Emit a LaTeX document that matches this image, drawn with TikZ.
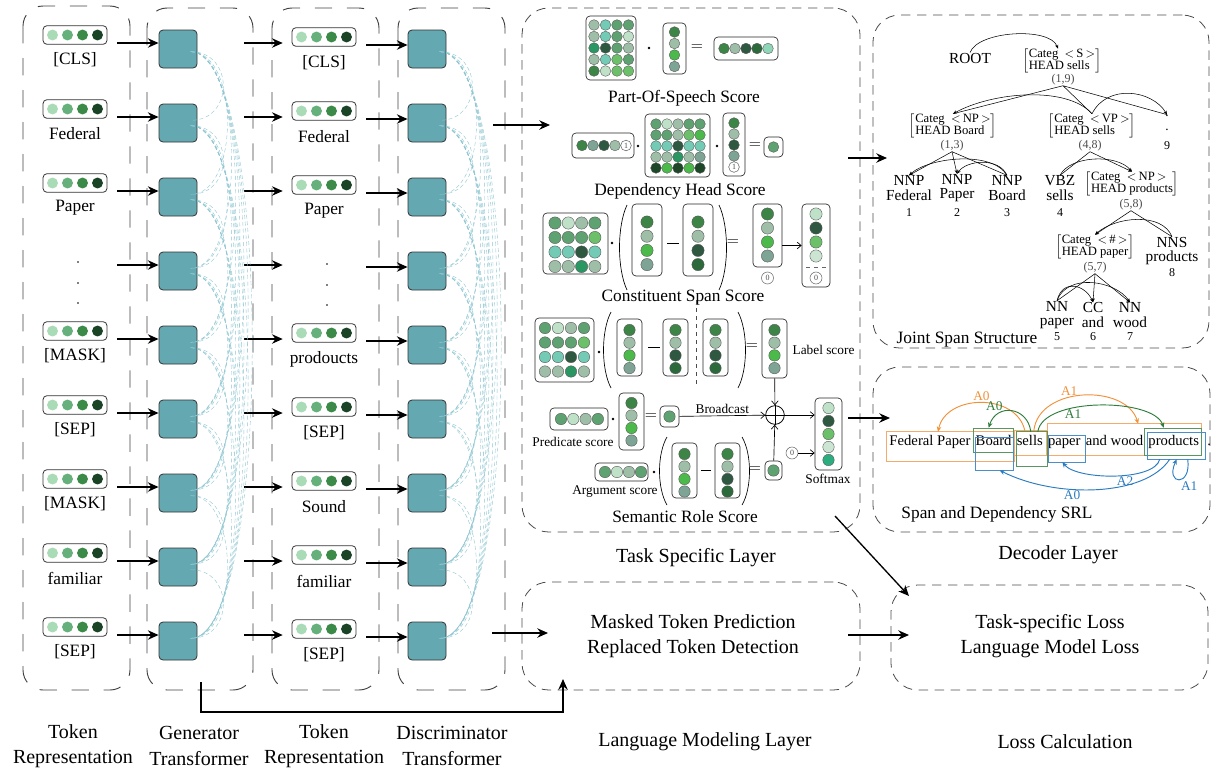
\documentclass[tikz,border=0pt]{standalone}
\usepackage{fontspec}
\setmainfont{Liberation Serif}
\usetikzlibrary{arrows.meta,positioning,fit,calc}

% colours
\definecolor{tokA}{HTML}{A9DBB7}
\definecolor{tokB}{HTML}{66B07B}
\definecolor{tokC}{HTML}{3C8A47}
\definecolor{tokD}{HTML}{1B4426}
\definecolor{trfc}{HTML}{64A8B1}
\definecolor{attnc}{HTML}{8EC5D0}
\definecolor{ga}{HTML}{9FBEA7}
\definecolor{gb}{HTML}{73CBB5}
\definecolor{gc}{HTML}{5FA271}
\definecolor{gd}{HTML}{2E5840}
\definecolor{ge}{HTML}{3D8546}
\definecolor{gf}{HTML}{BFE1C8}
\definecolor{gg}{HTML}{4CBA4A}
\definecolor{gh}{HTML}{2A9662}
\definecolor{gi}{HTML}{7DA494}
\definecolor{gj}{HTML}{1D4727}
\definecolor{gk}{HTML}{6CC06A}
\definecolor{gl}{HTML}{2C6A3C}
\definecolor{gm}{HTML}{2BAD80}
\definecolor{gp}{HTML}{8FD6B9}
\definecolor{gq}{HTML}{CBE5D2}
\definecolor{srlO}{HTML}{F0913A}
\definecolor{srlG}{HTML}{2E7D3B}
\definecolor{srlB}{HTML}{2A7BBF}

\tikzset{
  column/.style={draw=black!75,line width=0.7pt,dash pattern=on 13pt off 11pt,rounded corners=15pt},
  panel/.style={draw=black!70,line width=0.6pt,dash pattern=on 7pt off 5pt,rounded corners=20pt,inner sep=0pt},
  trf/.style={draw=black!80,fill=trfc,rounded corners=3pt,minimum width=28.5pt,minimum height=28.5pt,inner sep=0pt,line width=0.6pt},
  tok/.style={draw=black!80,rounded corners=3pt,minimum width=48pt,minimum height=14pt,inner sep=0pt,line width=0.6pt},
  arr/.style={-{Stealth[length=8pt,width=7pt]},line width=1.3pt},
  sarr/.style={-{Straight Barb[length=3pt,width=5pt]},line width=0.5pt},
  dep/.style={-{Stealth[length=3pt,width=2.4pt]},line width=0.4pt},
  tline/.style={line width=0.4pt},
  attn/.style={draw=attnc,line width=0.3pt,dash pattern=on 3pt off 2pt},
  ball/.style={draw=black!65,line width=0.3pt},
  vframe/.style={draw=black!85,rounded corners=3pt,inner sep=0pt,line width=0.5pt},
  capt/.style={font=\fontsize{15}{19}\selectfont,align=center},
  tokname/.style={font=\fontsize{13}{15}\selectfont},
  score/.style={font=\fontsize{13}{15}\selectfont},
  smalltxt/.style={font=\fontsize{10}{12}\selectfont,inner sep=1pt},
  op/.style={font=\fontsize{13}{15}\selectfont,inner sep=0pt},
  cnum/.style={circle,draw=black!60,text=black!70,inner sep=0pt,minimum size=7pt,font=\fontsize{6}{6}\selectfont},
  bracket/.style={font=\fontsize{9.5}{10}\selectfont,inner sep=0pt},
  jtag/.style={font=\fontsize{11.5}{11}\selectfont,align=center,inner sep=0pt},
  jnum/.style={font=\fontsize{9}{10}\selectfont,inner sep=0pt},
  jspan/.style={font=\fontsize{9}{10}\selectfont,text=black!70,inner sep=0pt},
  srlw/.style={font=\fontsize{11}{13}\selectfont,inner sep=0pt,text height=8pt,text depth=2.5pt},
  argl/.style={font=\fontsize{10}{12}\selectfont,inner sep=1pt},
  oarc/.style={-{Stealth[length=4pt,width=3.5pt]},draw=srlO,line width=0.7pt},
  garc/.style={-{Stealth[length=4pt,width=3.5pt]},draw=srlG,line width=0.7pt},
  barc/.style={-{Stealth[length=4pt,width=3.5pt]},draw=srlB,line width=0.7pt},
  obox/.style={draw=srlO!75,line width=0.6pt},
  gbox/.style={draw=srlG!80,line width=0.6pt},
  bbox/.style={draw=srlB!85,line width=0.6pt},
}

\newcommand{\ballr}{4pt}
% row / column of balls: x0, y0, dx, dy, colours
\newcommand{\balls}[5]{%
  \foreach \bc [count=\kk from 0] in {#5}
    \filldraw[ball,fill=\bc] ({#1+\kk*#3},{#2+\kk*#4}) circle (\ballr);
}
% matrix of balls: x0, y0, dx, dy, rows
\newcommand{\ballmat}[5]{%
  \foreach \rw [count=\mm from 0] in {#5}
    \foreach \bc [count=\kk from 0] in \rw
      \filldraw[ball,fill=\bc] ({#1+\kk*#3},{#2+\mm*#4}) circle (\ballr);
}
\newcommand{\vfr}[3]{\node[vframe,fit={#2 #3}] (#1) {};}
\newcommand{\openbr}[3]{\draw[line width=0.5pt] (#1,#2) .. controls ({#1-10},{#2+0.25*(#3-#2)}) and ({#1-10},{#2+0.75*(#3-#2)}) .. (#1,#3);}
\newcommand{\closebr}[3]{\draw[line width=0.5pt] (#1,#2) .. controls ({#1+10},{#2+0.25*(#3-#2)}) and ({#1+10},{#2+0.75*(#3-#2)}) .. (#1,#3);}
\newcommand{\categ}[2]{$\left[\renewcommand\arraystretch{0.8}\begin{tabular}{@{}l@{}}Categ\ \ $<$\,#1\,$>$\\HEAD\ #2\end{tabular}\right]$}
\newcommand{\tokvec}[3]{%
  \node[tok] (#1) at (#2,#3) {};
  \foreach \bc [count=\kk from 0] in {tokA,tokB,tokC,tokD}
    \fill[\bc] ($(#1.center)+({(\kk-1.5)*11.25pt},0)$) circle (4.1pt);
}

\begin{document}
\begin{tikzpicture}[x=0.75pt,y=-0.75pt]
\useasboundingbox (0,0) rectangle (1211,769);

% encoder columns
\draw[column] (23,6) rectangle (130,690);
\draw[column] (147,8) rectangle (253,690);
\draw[column] (272,8) rectangle (379,690);
\draw[column] (398,8) rectangle (505,690);

% tokens and transformer blocks
\foreach \ri/\wa/\wb in {1/{[CLS]}/{[CLS]},2/Federal/Federal,3/Paper/Paper,4/{}/{},
  5/{[MASK]}/prodoucts,6/{[SEP]}/{[SEP]},7/{[MASK]}/Sound,8/familiar/familiar,9/{[SEP]}/{[SEP]}}{
  \pgfmathsetmacro\Y{49+74*(\ri-1)}
  \node[trf] (g\ri) at (178,\Y) {};
  \node[trf] (d\ri) at (427,\Y) {};
  \ifnum\ri=4
    \foreach \yy in {262,283,303}{
      \fill (78,\yy) circle (0.6pt);
      \fill (327,\yy+2) circle (0.6pt);
    }
  \else
    \tokvec{ta\ri}{75}{\Y-14}
    \tokvec{tb\ri}{324}{\Y-12}
    \node[tokname] (la\ri) at (75,\Y+11) {\wa};
    \node[tokname] (lb\ri) at (324,\Y+14) {\wb};
  \fi
  \draw[arr] ([xshift=-31pt,yshift=4.5pt]g\ri.west) -- ([yshift=4.5pt]g\ri.west);
  \draw[arr] ([xshift=35pt,yshift=4.5pt]g\ri.east) -- ([xshift=64pt,yshift=4.5pt]g\ri.east);
  \draw[arr] ([xshift=-31pt,yshift=3pt]d\ri.west) -- ([yshift=3pt]d\ri.west);
}

% attention links
\foreach \i in {1,...,8}{
  \pgfmathtruncatemacro\kn{\i+1}
  \foreach \j in {\kn,...,9}{
    \pgfmathsetmacro\bulge{38+5.5*(\j-\i)}
    \foreach \cc in {g,d}{
      \draw[attn] ([xshift=-5pt,yshift=-2pt]\cc\i.east) .. controls +(\bulge,0) and +(\bulge,0) .. ([xshift=-5pt,yshift=2pt]\cc\j.east);
    }
  }
}

% column captions
\node[capt] (capA) at (73,746) {Token\\Representation};
\node[capt] (capB) at (199,746) {Generator\\Transformer};
\node[capt] (capC) at (324,746) {Token\\Representation};
\node[capt] (capD) at (452,746) {Discriminator\\Transformer};

% panels
\node[panel,fit={(522,8) (860,532)}] (task) {};
\node[panel,fit={(873,15) (1209,348)}] (jss) {};
\node[panel,fit={(873,367) (1210,532)}] (srl) {};
\node[panel,fit={(522,582) (860,690)}] (lm) {};
\node[panel,fit={(891,585) (1208,690)}] (loss) {};
\node[capt] (taskL) at (696,558) {Task Specific Layer};
\node[capt] (decL) at (1058,555) {Decoder Layer};
\node[capt] (lmL) at (705,742) {Language Modeling Layer};
\node[capt] (lossL) at (1065,742) {Loss Calculation};
\node[capt] (lmT) at (693,636) {Masked Token Prediction\\Replaced Token Detection};
\node[capt] (lossT) at (1050,636) {Task-specific Loss\\Language Model Loss};

% main arrows
\coordinate (dA) at (493,125); \coordinate (tIn) at (550,125);
\coordinate (dB) at (492,633); \coordinate (lmIn) at (548,633);
\coordinate (tJ) at (848,158); \coordinate (jIn) at (887,158);
\coordinate (tS) at (848,418); \coordinate (sIn) at (890,418);
\coordinate (lmOut) at (848,635); \coordinate (lossIn) at (909,635);
\coordinate (tOut) at (835,516); \coordinate (lossTop) at (909,596);
\coordinate (gOut) at (201,682); \coordinate (lmBot) at (563,679);
\draw[arr] (dA) -- (tIn);
\draw[arr] (dB) -- (lmIn);
\draw[arr] (tJ) -- (jIn);
\draw[arr] (tS) -- (sIn);
\draw[arr] (lmOut) -- (lossIn);
\draw[arr,line width=1pt] (tOut) -- (lossTop);
\draw[arr] (gOut) -- ++(0,30) -| (lmBot);

% part-of-speech score
\vfr{posM}{(586,16)}{(636,80)}
\ballmat{594}{25}{11.5}{11.5}{{ga,gb,gc,gc},{ga,gb,gc,gf},{gh,gd,gc,ga},{ga,gb,gk,gc},{ge,gf,gk,gk}}
\fill (649,48) circle (1.1pt);
\vfr{posV}{(663,23)}{(686,74)}
\balls{674.5}{32}{0}{11.5}{ge,ga,gg,gi}
\node[op] (posEq) at (697,48) {$=$};
\vfr{posR}{(714,37)}{(778,60)}
\balls{724}{48.5}{11}{0}{ge,ga,gd,gl,gp}
\node[score] (posL) at (684,98) {Part-Of-Speech Score};

% dependency head score
\vfr{dhsA}{(572,133)}{(634,158)}
\balls{582}{145.5}{11}{0}{ge,gi,gd,ga}
\node[cnum,minimum size=8pt] (dhsOneA) at (626,145.5) {1};
\fill (638,146) circle (1.1pt);
\vfr{dhsM}{(645,114)}{(710,177)}
\ballmat{656}{124}{11}{11}{{gc,gf,ga,gc,gc},{gc,gc,ga,gk,gg},{gb,gb,gd,gb,gb},{ga,ga,gh,ga,gi},{gj,gg,gj,gg,gj}}
\fill (717,146) circle (1.1pt);
\vfr{dhsV}{(723,113)}{(745,176)}
\balls{734}{123}{0}{11}{ge,ga,gd,gi}
\node[cnum,minimum size=8pt] (dhsOneB) at (734,167) {1};
\node[op] (dhsEq) at (755,146) {$=$};
\vfr{dhsR}{(764,137)}{(783,157)}
\balls{773.5}{147}{0}{0}{gc}
\node[score] (dhsL) at (680,191) {Dependency Head Score};

% constituent span score
\renewcommand\ballr{4.6pt}
\vfr{cssM}{(543,213)}{(608,274)}
\ballmat{555}{223}{13.3}{14.5}{{gc,gf,ga,gc},{gc,gc,gc,gk},{gb,gb,gd,gb},{ga,ga,gh,ga}}
\fill (612,243) circle (1.1pt);
\openbr{627}{205}{290}
\closebr{719}{205}{290}
\vfr{cssA}{(632,204)}{(662,276)}
\balls{647}{222}{0}{14.2}{ge,ga,gg,gi}
\draw[line width=0.5pt] (667,243) -- (679,243);
\vfr{cssB}{(683,204)}{(713,276)}
\balls{698}{222}{0}{14.2}{ge,ga,gd,gl}
\node[op] (cssEq) at (733,243) {$=$};
\vfr{cssC}{(753,204)}{(782,267)}
\balls{767.5}{214}{0}{14}{ge,ga,gg,gi}
\node[cnum,minimum size=9pt] (cssZa) at (767.5,278) {0};
\vfr{cssD}{(802,204)}{(830,287)}
\balls{816}{214}{0}{14}{gf,gd,gk,gq}
\draw[dashed,black!60] (806,267) -- (826,267);
\node[cnum,minimum size=9pt] (cssZb) at (816,278) {0};
\draw[sarr] (cssC.east |- cssD.west) -- (cssD.west);
\node[score] (cssL) at (683,298) {Constituent Span Score};

% semantic role score
\renewcommand\ballr{4.3pt}
\vfr{srlM}{(535,318)}{(594,382)}
\ballmat{545}{328}{13}{14.5}{{gc,gf,ga,gc},{gc,gc,gc,gk},{gb,gb,gd,gb},{ga,ga,gh,ga}}
\fill (599,352) circle (1.1pt);
\openbr{611}{312}{388}
\closebr{738}{312}{388}
\vfr{srlA}{(617,319)}{(642,376)}
\balls{629.5}{330}{0}{12.7}{ge,ga,gg,gi}
\draw[line width=0.5pt] (648,347) -- (660,347);
\vfr{srlB}{(663,319)}{(688,376)}
\balls{675.5}{330}{0}{12.7}{ge,ga,gd,gl}
\draw[dashed,black!70] (696,300) -- (696,388);
\vfr{srlC}{(703,319)}{(728,376)}
\balls{715.5}{330}{0}{12.7}{ge,ga,gd,gl}
\node[op] (srlEq) at (752,347) {$=$};
\vfr{lab}{(762,319)}{(787,378)}
\balls{774.5}{330}{0}{12.7}{ge,ga,gg,gi}
\node[smalltxt,anchor=west] (labL) at (791,350) {Label score};

\vfr{predA}{(550,408)}{(608,430)}
\balls{561}{419}{12.3}{0}{gc,gf,ga,gc}
\fill (613,419) circle (1.1pt);
\vfr{predB}{(619,393)}{(644,450)}
\balls{631.5}{403}{0}{12.5}{ge,ga,gg,gi}
\node[op] (predEq) at (651,417) {$=$};
\vfr{pred}{(660,406)}{(679,427)}
\balls{669.5}{416.5}{0}{0}{gc}
\node[smalltxt] (predL) at (573,442) {Predicate score};

\node[circle,draw,line width=0.6pt,minimum size=14pt,inner sep=0pt] (plus) at (775,415) {};
\draw[line width=0.6pt] (plus.north) -- (plus.south) (plus.west) -- (plus.east);

\vfr{argA}{(595,463)}{(648,481)}
\balls{605}{472}{12}{0}{gc,gf,ga,gc}
\fill (654,472) circle (1.1pt);
\openbr{667}{437}{505}
\closebr{742}{437}{505}
\vfr{argB}{(672,443)}{(697,498)}
\balls{684.5}{454}{0}{12.5}{ge,ga,gg,gi}
\draw[line width=0.5pt] (701,470) -- (711,470);
\vfr{argC}{(715,443)}{(740,498)}
\balls{727.5}{454}{0}{12.5}{ge,ga,gd,gl}
\node[op] (argEq) at (755,470) {$=$};
\vfr{arg}{(765,461)}{(782,480)}
\balls{773.5}{470.5}{0}{0}{gc}
\node[smalltxt] (argL) at (615,492) {Argument score};

\vfr{soft}{(815,398)}{(842,470)}
\balls{828.5}{408}{0}{13}{gf,gd,gk,gq,gm}
\node[smalltxt] (softL) at (828,479) {Softmax};
\node[cnum,minimum size=9pt] (zs) at (792,453) {0};
\draw[sarr] (zs.east) -- (zs.east -| soft.west);
\draw[sarr] (lab) -- (plus);
\draw[sarr] (arg) -- (plus);
\draw[sarr] (pred) -- (plus) node[smalltxt,midway,above] (bcL) {Broadcast};
\draw[sarr] (plus) -- (plus -| soft.west);
\node[score] (semL) at (685,517) {Semantic Role Score};

% joint span structure
\node[jtag] (root) at (970,58) {ROOT};
\node[bracket] (cs) at (1062,61) {\categ{S}{sells}};
\node[jspan] (s19) at (1063,80) {(1,9)};
\node[bracket] (cnp) at (953,126) {\categ{NP}{Board}};
\node[jspan] (s13) at (952,146) {(1,3)};
\node[bracket] (cvp) at (1092,126) {\categ{VP}{sells}};
\node[jspan] (s48) at (1090,146) {(4,8)};
\node[jtag,font=\fontsize{10}{11}\selectfont] (pun) at (1167,123) {.\\.};
\node[jnum] (nw9) at (1167,146) {9};
\foreach \nm/\x/\tg/\wrd/\nb in {w1/909/NNP/Federal/1,w2/957/NNP/Paper/2,w3/1007/NNP/Board/3,w4/1060/VBZ/sells/4}{
  \node[jtag] (\nm) at (\x,188) {\tg\\\wrd};
  \node[jnum] (n\nm) at (\x,213) {\nb};
}
\node[bracket] (cnp2) at (1132,184) {\categ{NP}{products}};
\node[jspan] (s58) at (1131,205) {(5,8)};
\node[bracket] (chash) at (1095,247) {\categ{\#}{paper}};
\node[jspan] (s57) at (1095,268) {(5,7)};
\node[jtag] (w8) at (1172,251) {NNS\\products};
\node[jnum] (nw8) at (1172,273) {8};
\foreach \nm/\x/\tg/\wrd/\nb in {w5/1057/NN/paper/5,w6/1093/CC/and/6,w7/1130/NN/wood/7}{
  \node[jtag] (\nm) at (\x,315) {\tg\\\wrd};
  \node[jnum] (n\nm) at (\x,337) {\nb};
}
\node[score] (jssL) at (967,340) {Joint Span Structure};

\draw[dep] (root.north) .. controls +(8,-22) and +(-8,-22) .. ([xshift=-3pt]cs.north);
\draw[tline] (s19.south) -- (cnp.north) (s19.south) -- (cvp.north) (s19.south) -- (pun.north);
\draw[dep] (cvp.north) .. controls +(-25,-28) and +(40,-22) .. (cnp.north);
\draw[dep] (cvp.north) .. controls +(15,-30) and +(-15,-25) .. (pun.north);
\draw[dep] (s13.south) -- (w1.north);
\draw[dep] (s13.south) -- (w2.north);
\draw[tline] (s13.south) -- (w3.north);
\draw[dep] (w3.north) .. controls +(-15,-25) and +(20,-18) .. (w1.north);
\draw[dep] (w3.north) .. controls +(-8,-18) and +(10,-14) .. (w2.north);
\draw[tline] (s48.south) -- (w4.north);
\draw[dep] (s48.south) -- (cnp2.north);
\draw[dep] (w4.north) .. controls +(10,-20) and +(-15,-18) .. (cnp2.north);
\draw[dep] (s58.south) -- (chash.north);
\draw[tline] (s58.south) -- (w8.north);
\draw[dep] (w8.north) .. controls +(-10,-25) and +(20,-18) .. (chash.north);
\draw[tline] (s57.south) -- (w5.north);
\draw[dep] (s57.south) -- (w6.north);
\draw[dep] (s57.south) -- (w7.north);
\draw[dep] (w5.north) .. controls +(5,-22) and +(-8,-18) .. (w6.north);
\draw[dep] (w5.north) .. controls +(10,-28) and +(-15,-22) .. (w7.north);

% span and dependency srl
\node[srlw] (f1) at (930,442) {Federal Paper};
\node[srlw,right=3.5pt of f1] (f2) {Board};
\node[srlw,right=3.5pt of f2] (f3) {sells};
\node[srlw,right=3.5pt of f3] (f4) {paper};
\node[srlw,right=3.5pt of f4] (f5) {and wood};
\node[srlw,right=3.5pt of f5] (f6) {products};
\node[srlw,right=6pt of f6] (f7) {.};

\draw[obox] ($(f1.north west)+(-3,-3)$) rectangle ($(f2.south east)+(3,12)$);
\draw[obox] ($(f3.north west)+(-2,-4)$) rectangle ($(f3.south east)+(3,6)$);
\draw[obox] ($(f4.north west)+(0,-11)$) rectangle ($(f6.south east)+(2,6)$);
\draw[gbox] ($(f2.north west)+(-2,-6)$) rectangle ($(f2.south east)+(2,3)$);
\draw[gbox] ($(f3.north west)+(0,-3)$) rectangle ($(f3.south east)+(4,17)$);
\draw[gbox] ($(f6.north west)+(-4,-6)$) rectangle ($(f6.south east)+(2,6)$);
\draw[bbox] ($(f2.north west)+(0,3)$) rectangle ($(f2.south east)+(2,21)$);
\draw[bbox] ($(f4.north west)+(1,1)$) rectangle ($(f4.south east)+(5,13)$);
\draw[bbox] ($(f6.north west)+(-1,-2)$) rectangle ($(f6.south east)+(6,10)$);

\draw[oarc] ($(f3.north)+(-5,-4)$) .. controls +(-8,-38) and +(8,-38) .. ($(f1.north)+(8,-3)$) node[argl,text=srlO,pos=.5,above] (oA0) {A0};
\draw[oarc] ($(f3.north)+(4,-4)$) .. controls +(5,-45) and +(-12,-40) .. ($(f6.north west)+(-10,-11)$) node[argl,text=srlO,pos=.4,above] (oA1) {A1};
\draw[garc] ($(f3.north)+(1,-3)$) .. controls +(-3,-25) and +(8,-25) .. ($(f2.north)+(-5,-7)$) node[argl,text=srlG,pos=.65,above left=-1pt] (gA0) {A0};
\draw[garc] ($(f3.north)+(8,-3)$) .. controls +(5,-35) and +(-10,-30) .. ($(f6.north)+(-10,-7)$) node[argl,text=srlG,pos=.35,below] (gA1) {A1};
\draw[barc] ($(f6.south)+(-14,10)$) .. controls +(-5,22) and +(15,18) .. ($(f4.south)+(-2,13)$) node[argl,text=srlB,pos=.42,below] (bA2) {A2};
\draw[barc] ($(f6.south)+(-4,10)$) .. controls +(-25,38) and +(55,28) .. ($(f2.south)+(6,21)$) node[argl,text=srlB,pos=.62,below] (bA0) {A0};
\draw[barc] ($(f6.south)+(14,10)$) .. controls +(4,28) and +(-12,26) .. ($(f6.south)+(3,10)$) node[argl,text=srlB,pos=.5,below right] (bA1) {A1};
\node[score] (srlL) at (997,514) {Span and Dependency SRL};
\end{tikzpicture}
\end{document}
